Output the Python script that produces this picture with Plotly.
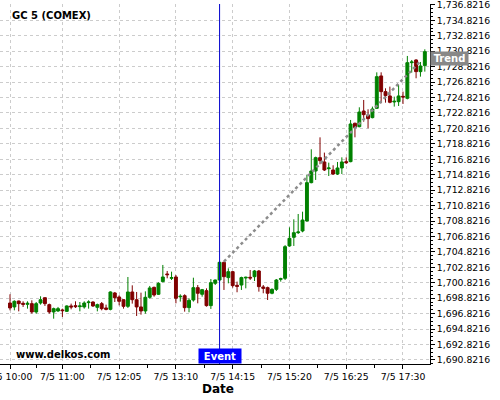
import plotly.graph_objects as go
import pandas as pd

DAY = "2012-07-05"

# 5 minute bars, GC 5 (COMEX), first bar at 10:00
opens = [1698.20, 1697.69, 1698.46, 1698.16, 1698.03, 1698.12, 1697.04, 1698.20, 1698.89, 1697.99,
         1697.04, 1697.17, 1697.30, 1697.12, 1697.82, 1697.86, 1697.73, 1697.69, 1698.25, 1698.33,
         1697.64, 1698.12, 1697.56, 1697.38, 1699.50, 1698.98, 1698.63, 1697.77, 1699.63, 1698.63,
         1697.69, 1697.17, 1698.94, 1700.23, 1699.33, 1700.97, 1701.96, 1701.40, 1701.57, 1699.00,
         1699.15, 1697.60, 1698.59, 1700.19, 1699.33, 1699.80, 1697.86, 1700.75, 1701.18, 1703.47,
         1701.49, 1702.26, 1700.49, 1700.53, 1701.44, 1701.53, 1701.61, 1702.35, 1700.28, 1700.19,
         1699.46, 1699.97, 1701.27, 1701.40, 1705.59, 1706.71, 1707.31, 1707.53, 1708.83, 1713.79,
         1715.30, 1717.03, 1716.47, 1715.60, 1715.43, 1714.91, 1715.69, 1716.51, 1716.51, 1721.48,
         1721.04, 1723.07, 1722.56, 1722.21, 1723.42, 1727.61, 1725.58, 1725.02, 1724.24, 1724.28,
         1724.97, 1724.71, 1729.33, 1729.68, 1728.17, 1728.95]
highs = [1699.33, 1698.55, 1698.50, 1698.42, 1698.42, 1698.55, 1698.33, 1699.07, 1698.89, 1698.12,
         1697.60, 1697.69, 1697.47, 1697.90, 1698.12, 1698.42, 1698.33, 1698.42, 1698.55, 1698.42,
         1698.12, 1698.33, 1697.99, 1699.71, 1699.63, 1699.20, 1698.68, 1701.57, 1700.49, 1699.63,
         1699.54, 1699.71, 1700.41, 1700.32, 1700.88, 1703.13, 1702.35, 1702.26, 1701.83, 1699.33,
         1699.33, 1698.81, 1701.48, 1700.53, 1700.02, 1700.10, 1701.31, 1701.23, 1703.56, 1703.56,
         1702.69, 1702.35, 1700.97, 1701.61, 1701.61, 1702.48, 1702.48, 1702.48, 1700.53, 1700.32,
         1700.10, 1701.31, 1701.48, 1705.70, 1708.00, 1709.04, 1709.73, 1710.03, 1714.78, 1718.11,
         1717.16, 1719.66, 1717.68, 1716.38, 1716.04, 1716.47, 1717.07, 1717.07, 1721.91, 1721.56,
         1723.55, 1724.50, 1723.29, 1723.64, 1728.08, 1728.08, 1726.01, 1726.23, 1724.93, 1726.44,
         1725.58, 1730.20, 1729.68, 1729.77, 1729.42, 1731.06]
lows = [1697.25, 1697.25, 1697.12, 1697.69, 1697.47, 1696.82, 1696.82, 1697.99, 1697.82, 1696.82,
        1696.17, 1697.04, 1696.39, 1697.04, 1697.38, 1697.56, 1697.12, 1697.47, 1697.47, 1697.69,
        1697.12, 1697.25, 1697.25, 1697.25, 1698.33, 1697.90, 1697.47, 1697.56, 1698.12, 1696.52,
        1696.69, 1696.82, 1698.76, 1699.02, 1699.24, 1700.88, 1701.40, 1701.18, 1698.16, 1698.38,
        1697.08, 1697.00, 1698.38, 1698.16, 1699.02, 1697.73, 1697.43, 1700.53, 1700.97, 1699.89,
        1700.75, 1700.19, 1699.59, 1699.89, 1700.10, 1701.18, 1701.05, 1699.67, 1699.46, 1698.59,
        1699.33, 1699.76, 1700.97, 1701.18, 1705.50, 1705.59, 1707.14, 1707.36, 1708.74, 1713.70,
        1714.14, 1716.17, 1715.30, 1714.65, 1714.78, 1714.78, 1714.91, 1716.21, 1716.43, 1719.66,
        1720.96, 1721.69, 1720.83, 1722.12, 1723.33, 1724.07, 1724.15, 1724.07, 1723.64, 1723.72,
        1723.98, 1724.58, 1728.04, 1727.31, 1727.52, 1728.17]
closes = [1697.56, 1698.42, 1698.12, 1698.03, 1698.16, 1697.04, 1698.12, 1698.63, 1698.12, 1697.04,
          1697.47, 1697.47, 1697.21, 1697.82, 1697.69, 1697.73, 1697.82, 1698.20, 1698.33, 1697.82,
          1697.99, 1697.47, 1697.38, 1699.63, 1698.89, 1698.42, 1697.77, 1699.63, 1698.63, 1697.69,
          1697.17, 1698.94, 1700.15, 1699.24, 1700.75, 1701.57, 1701.87, 1701.49, 1698.81, 1699.07,
          1697.60, 1698.55, 1700.19, 1699.46, 1699.93, 1697.86, 1700.84, 1701.18, 1703.47, 1701.61,
          1702.26, 1700.45, 1700.36, 1701.49, 1701.53, 1701.44, 1702.35, 1700.32, 1700.10, 1699.46,
          1699.97, 1701.18, 1701.35, 1705.50, 1706.58, 1707.31, 1707.40, 1708.95, 1713.79, 1715.30,
          1717.03, 1716.64, 1715.43, 1715.69, 1714.91, 1715.69, 1716.47, 1716.38, 1721.39, 1720.91,
          1722.94, 1722.60, 1722.08, 1723.33, 1727.52, 1725.58, 1725.06, 1724.20, 1724.33, 1725.02,
          1724.89, 1729.33, 1729.42, 1728.17, 1728.90, 1730.76]

times = pd.date_range(f"{DAY} 10:00", periods=len(opens), freq="5min")

tick_times = ["10:00", "11:00", "12:05", "13:10", "14:15", "15:20", "16:25", "17:30"]
tick_labels = ["7/5 " + t for t in tick_times]
minor_times = ["10:30", "11:32:30", "12:37:30", "13:42:30", "14:47:30", "15:52:30", "16:57:30"]

event_time = "14:00"
trend_times = ["14:05", "17:50"]
trend_prices = [1703.56, 1729.50]

font = "DejaVu Sans"
GREEN = "#008000"
RED = "#800000"

fig = go.Figure()
fig.add_trace(go.Candlestick(
    x=times, open=opens, high=highs, low=lows, close=closes,
    increasing=dict(line=dict(color=GREEN, width=1), fillcolor=GREEN),
    decreasing=dict(line=dict(color=RED, width=1), fillcolor=RED),
    hoverinfo="skip", showlegend=False,
))
fig.add_trace(go.Scatter(
    x=[f"{DAY} {t}" for t in trend_times], y=trend_prices, mode="lines",
    line=dict(color="#8c8c8c", width=2.5, dash="dot"),
    hoverinfo="skip", showlegend=False,
))

fig.add_shape(type="line", xref="x", yref="paper",
              x0=f"{DAY} {event_time}", x1=f"{DAY} {event_time}", y0=0, y1=1,
              line=dict(color="#0000cc", width=1))

fig.add_annotation(x=f"{DAY} {event_time}", y=0, xref="x", yref="paper",
                   xanchor="center", yanchor="bottom", text="<b>Event</b>",
                   showarrow=False, bgcolor="#0000ff", width=40, height=12, borderpad=1,
                   font=dict(family=font, size=10, color="white"))
fig.add_annotation(x=1, y=1729.83, xref="paper", yref="y",
                   xanchor="left", yanchor="middle", text="<b>Trend</b>",
                   showarrow=False, bgcolor="#888888", width=35, height=11, borderpad=1,
                   font=dict(family=font, size=10, color="white"))
fig.add_annotation(x=0.024, y=0.9675, xref="paper", yref="paper",
                   xanchor="left", yanchor="middle", text="<b>GC 5 (COMEX)</b>",
                   showarrow=False, font=dict(family=font, size=10, color="black"))
fig.add_annotation(x=0.033, y=0.027, xref="paper", yref="paper",
                   xanchor="left", yanchor="middle", text="<b>www.delkos.com</b>",
                   showarrow=False, font=dict(family=font, size=10, color="black"))
fig.add_annotation(x=0.506, y=-0.069, xref="paper", yref="paper",
                   xanchor="center", yanchor="middle", text="<b>Date</b>",
                   showarrow=False, font=dict(family=font, size=12, color="black"))

grid = dict(gridcolor="#cccccc", griddash="3px,3px", gridwidth=1)

fig.update_layout(
    template="none",
    width=500, height=400,
    margin=dict(l=0, r=70, t=4, b=36, pad=0),
    paper_bgcolor="white", plot_bgcolor="white",
    font=dict(family=font, size=9.3, color="black"),
    showlegend=False, hovermode=False,
    boxgap=0.05,
    xaxis=dict(
        type="date",
        range=[f"{DAY} 09:48:33", f"{DAY} 18:00:56"],
        tickmode="array",
        tickvals=[f"{DAY} {t}" for t in tick_times],
        ticktext=tick_labels,
        ticks="outside", ticklen=4, tickcolor="black",
        ticklabeloverflow="allow",
        showline=True, linecolor="black", linewidth=1,
        minor=dict(tickmode="array", tickvals=[f"{DAY} {t}" for t in minor_times],
                   ticks="outside", ticklen=3, tickcolor="black", showgrid=False),
        rangeslider=dict(visible=False),
        zeroline=False, automargin=False, fixedrange=True,
        **grid,
    ),
    yaxis=dict(
        side="right",
        range=[1690.30, 1736.93],
        tick0=1690.8216, dtick=2, tickformat=",.4f",
        ticks="outside", ticklen=4, tickcolor="black",
        ticklabeloverflow="allow",
        showline=True, linecolor="black", linewidth=1,
        minor=dict(tick0=1690.8216, dtick=0.5, ticks="outside", ticklen=2,
                   tickcolor="black", showgrid=False),
        zeroline=False, automargin=False, fixedrange=True,
        **grid,
    ),
)

# the page body has a default 8px margin; drop it so the figure sits at the window corner
fig.write_html("out.html", config={"displayModeBar": False},
               post_script="document.body.style.margin='0';")
